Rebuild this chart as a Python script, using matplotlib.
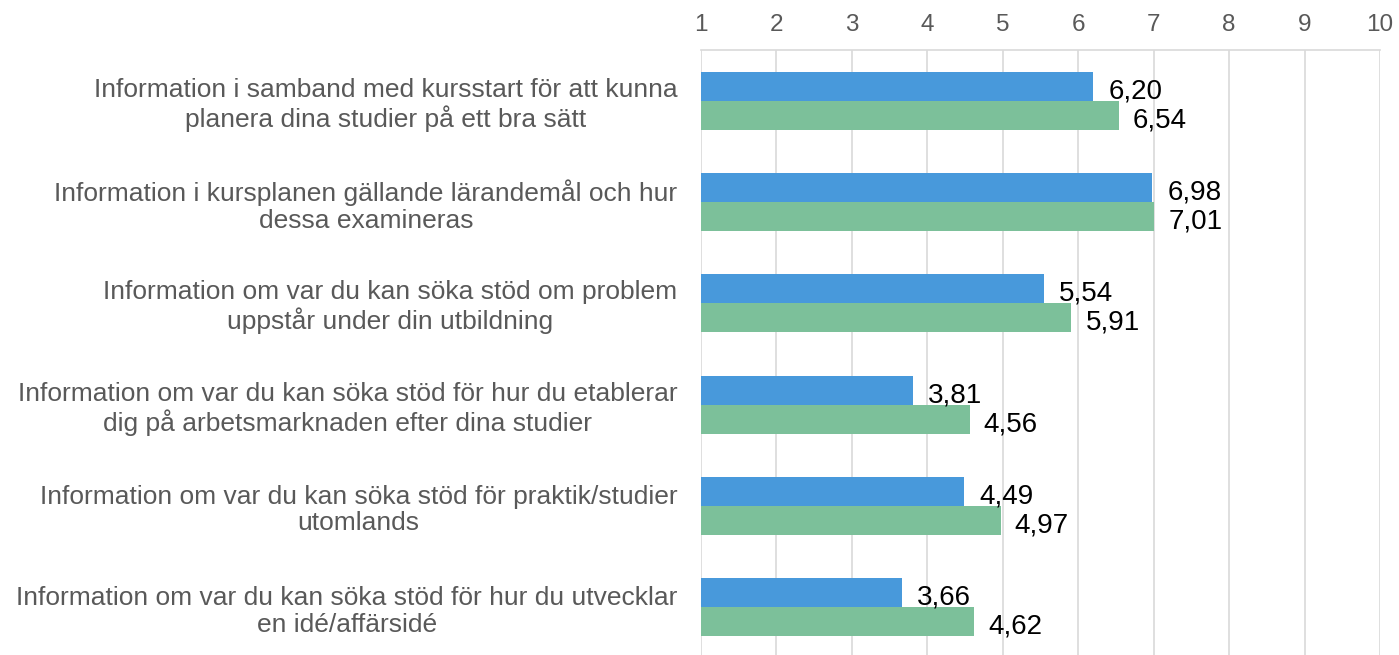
import matplotlib
matplotlib.use("Agg")
import matplotlib.pyplot as plt
import numpy as np

plt.rcParams['font.family'] = ['Liberation Sans', 'DejaVu Sans']

categories = [
    "Information i samband med kursstart för att kunna\nplanera dina studier på ett bra sätt",
    "Information i kursplanen gällande lärandemål och hur\ndessa examineras",
    "Information om var du kan söka stöd om problem\nuppstår under din utbildning",
    "Information om var du kan söka stöd för hur du etablerar\ndig på arbetsmarknaden efter dina studier",
    "Information om var du kan söka stöd för praktik/studier\nutomlands",
    "Information om var du kan söka stöd för hur du utvecklar\nen idé/affärsidé",
]
series_a = [6.20, 6.98, 5.54, 3.81, 4.49, 3.66]
series_b = [6.54, 7.01, 5.91, 4.56, 4.97, 4.62]
x_ticks = [1, 2, 3, 4, 5, 6, 7, 8, 9, 10]

color_a = "#4899DB"
color_b = "#7CC09A"

W, H = 1399, 655
fig = plt.figure(figsize=(W / 100, H / 100), dpi=100)
left, right, top, bottom = 701, 1380, 50, 658
ax = fig.add_axes([left / W, 1 - bottom / H, (right - left) / W, (bottom - top) / H])

n = len(categories)
y = np.arange(n)
bh = 0.286

ax.barh(y - bh / 2, [v - 1 for v in series_a], left=1, height=bh, color=color_a, zorder=3)
ax.barh(y + bh / 2, [v - 1 for v in series_b], left=1, height=bh, color=color_b, zorder=3)

for yi, va, vb in zip(y, series_a, series_b):
    ax.annotate(f"{va:.2f}".replace('.', ','), (va, yi - bh / 2), xytext=(15, -5),
                textcoords='offset pixels', va='center', ha='left', fontsize=20, color='black')
    ax.annotate(f"{vb:.2f}".replace('.', ','), (vb, yi + bh / 2), xytext=(14, -5),
                textcoords='offset pixels', va='center', ha='left', fontsize=20, color='black')

ax.set_xlim(1, 10)
ax.set_ylim(n - 0.5, -0.5)
ax.set_xticks(x_ticks)
ax.xaxis.tick_top()
ax.tick_params(axis='x', length=0, pad=10, labelsize=17.5, labelcolor='#595959')
ax.set_yticks(y)
ax.set_yticklabels(categories)
ax.tick_params(axis='y', length=0, pad=17, labelsize=19, labelcolor='#595959')
for lbl in ax.get_yticklabels():
    lbl.set_multialignment('center')
    lbl.set_linespacing(1.15)

ax.grid(axis='x', color='#D9D9D9', linewidth=1.2, zorder=0)
for s in ['left', 'right', 'bottom']:
    ax.spines[s].set_visible(False)
ax.spines['top'].set_color('#D9D9D9')
ax.spines['top'].set_linewidth(1.2)

fig.savefig("out.png", dpi=100)
